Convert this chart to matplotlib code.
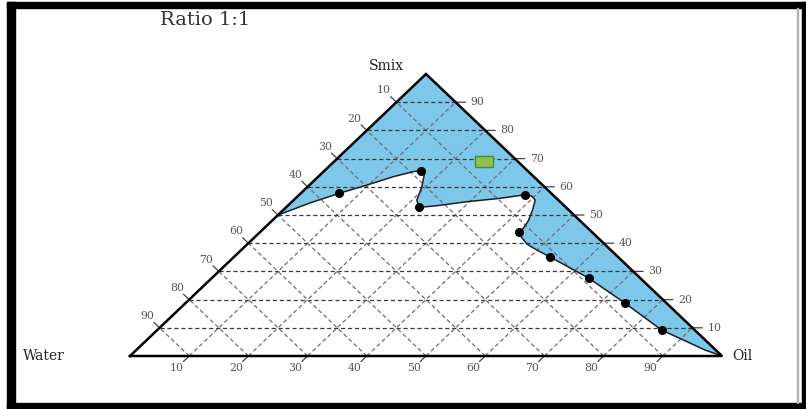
import numpy as np
import matplotlib
matplotlib.use("Agg")
import matplotlib.pyplot as plt
from matplotlib.patches import Rectangle, Polygon

plt.rcParams['lines.scale_dashes'] = False

# Ternary data in percent: (Smix, Oil); Water = 100 - Smix - Oil
# phase boundary (points actually measured)
dot_smix = [57.7, 65.7, 52.7, 57.2, 43.9, 35.2, 27.6, 18.7, 9.2]
dot_oil = [6.5, 16.3, 22.5, 38.2, 43.8, 53.3, 63.7, 74.3, 85.2]

# boundary trace from the Smix-Water edge to the Oil corner
curve_smix = [50.0, 54.3, 57.7, 60.6, 63.6, 65.4, 65.7, 64.2, 60.0, 55.3, 52.7,
              53.3, 54.7, 55.9, 57.2, 56.7, 55.3, 51.8, 48.0, 45.3, 43.9,
              42.1, 39.7, 37.6, 35.2, 27.6, 18.7, 9.2, 5.7, 2.1, 0.0]
curve_oil = [0.0, 3.3, 6.5, 9.7, 12.7, 15.2, 16.3, 17.6, 19.3, 20.8, 22.5,
             25.2, 29.5, 34.5, 38.2, 39.5, 40.8, 42.1, 43.3, 43.8, 43.8,
             45.1, 47.2, 49.9, 53.3, 63.7, 74.3, 85.2, 90.6, 96.1, 100.0]

ticks = [10, 20, 30, 40, 50, 60, 70, 80, 90]

# selected formulation marker
sel_smix, sel_oil = 69.1, 25.2


def tern(smix, oil):
    smix = np.asarray(smix, float) / 100.0
    oil = np.asarray(oil, float) / 100.0
    return oil + 0.5 * smix, smix


fig = plt.figure(figsize=(8.06, 4.09), dpi=100)
ax = fig.add_axes([0, 0, 1, 1])
ax.set_xlim(-130 / 592, 676 / 592)
ax.set_ylim(-53 / 282, 356 / 282)
ax.axis('off')

# single phase region
cx, cy = tern(curve_smix, curve_oil)
ax_, ay_ = tern([100], [0])
poly = np.column_stack([np.r_[cx, ax_], np.r_[cy, ay_]])
ax.add_patch(Polygon(poly, closed=True, facecolor='#7dc7ea', edgecolor='none', zorder=1))

# grid
for k in ticks:
    x, y = tern([k, k], [0, 100 - k])
    ax.plot(x, y, color='#3a3a3a', lw=0.9, dashes=(3, 2), zorder=2)
    x, y = tern([0, 100 - k], [k, k])
    ax.plot(x, y, color='#6f6f6f', lw=0.9, dashes=(3, 2), zorder=2)
    x, y = tern([0, 100 - k], [100 - k, 0])
    ax.plot(x, y, color='#6f6f6f', lw=0.9, dashes=(3, 2), zorder=2)

# boundary and points
ax.plot(cx, cy, color='#1e1e1e', lw=1.1, zorder=3)
dx, dy = tern(dot_smix, dot_oil)
ax.plot(dx, dy, 'o', color='black', ms=5.5, zorder=5)

# triangle outline
tx, ty = tern([0, 0, 100, 0], [0, 100, 0, 0])
ax.plot(tx, ty, color='black', lw=1.8, zorder=4, solid_joinstyle='miter')

# edge ticks and labels
lab_kw = dict(fontsize=7.8, color='#555555', family='DejaVu Serif')
tick_arrow = dict(arrowstyle='-', color='#444444', lw=0.9, shrinkA=0, shrinkB=0)
ul = np.array([-0.723, 0.691])   # up-left, in pixel units (x right, y up)
dl = np.array([-0.723, -0.691])  # down-left
for k in ticks:
    # left edge: water
    x, y = tern([100 - k], [0])
    ax.annotate('', xy=(x[0], y[0]), xytext=tuple(ul * 8), textcoords='offset pixels',
                arrowprops=tick_arrow)
    ax.annotate(str(k), xy=(x[0], y[0]), xytext=tuple(ul * 17), textcoords='offset pixels',
                ha='center', va='center', **lab_kw)
    # right edge: smix
    x, y = tern([k], [100 - k])
    ax.annotate('', xy=(x[0], y[0]), xytext=(10, 0), textcoords='offset pixels',
                arrowprops=tick_arrow)
    ax.annotate(str(k), xy=(x[0], y[0]), xytext=(15, 0), textcoords='offset pixels',
                ha='left', va='center', **lab_kw)
    # bottom edge: oil
    x, y = tern([0], [k])
    ax.annotate('', xy=(x[0], y[0]), xytext=tuple(dl * 8), textcoords='offset pixels',
                arrowprops=tick_arrow)
    ax.annotate(str(k), xy=(x[0], y[0]), xytext=tuple(dl * 17), textcoords='offset pixels',
                ha='center', va='center', **lab_kw)

vkw = dict(fontsize=10, color='#222222', family='DejaVu Serif')
x, y = tern([100], [0])
ax.annotate('Smix', xy=(x[0], y[0]), xytext=(-40, 8), textcoords='offset pixels',
            ha='center', va='center', **vkw)
x, y = tern([0], [0])
ax.annotate('Water', xy=(x[0], y[0]), xytext=(-86, 0), textcoords='offset pixels',
            ha='center', va='center', **vkw)
x, y = tern([0], [100])
ax.annotate('Oil', xy=(x[0], y[0]), xytext=(20, 0), textcoords='offset pixels',
            ha='center', va='center', **vkw)

# selected formulation
sx, sy = tern([sel_smix], [sel_oil])
ax.add_patch(Rectangle((sx[0] - 9 / 592, sy[0] - 5.5 / 282), 18 / 592, 11 / 282,
                       facecolor='#8cc152', edgecolor='#4f8a2a', lw=1, zorder=6))

fig.text(205 / 806, 1 - 25 / 409, 'Ratio 1:1', ha='center', va='baseline',
         fontsize=14, color='#333333', family='DejaVu Serif')

# frame
fc = 'black'
fig.add_artist(Rectangle((7 / 806, 0), 8 / 806, 407 / 409, transform=fig.transFigure, color=fc))
fig.add_artist(Rectangle((7 / 806, 401 / 409), 799 / 806, 6 / 409, transform=fig.transFigure, color=fc))
fig.add_artist(Rectangle((7 / 806, 0), 799 / 806, 6 / 409, transform=fig.transFigure, color=fc))
fig.add_artist(Rectangle((802 / 806, 0), 4 / 806, 407 / 409, transform=fig.transFigure, color=fc))
fig.add_artist(Rectangle((797 / 806, 6 / 409), 1 / 806, 395 / 409, transform=fig.transFigure,
                         color='#b0b0b0'))

fig.savefig('out.png', dpi=100)
